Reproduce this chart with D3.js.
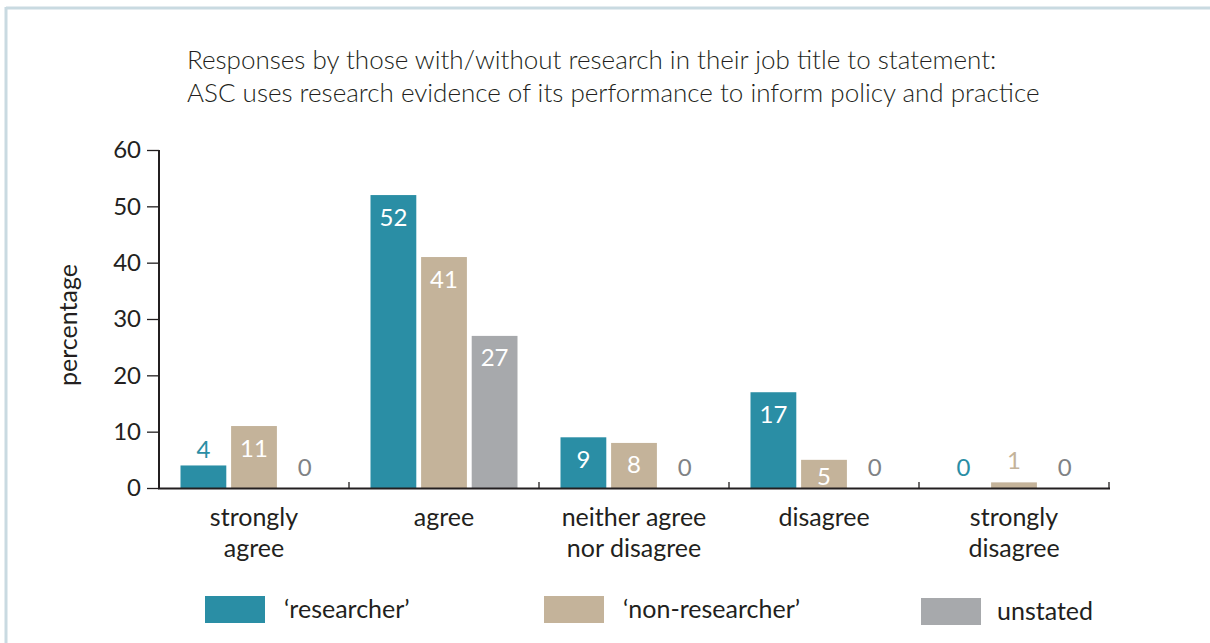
<!DOCTYPE html>
<html>
<head>
<meta charset="utf-8">
<script src="https://cdn.jsdelivr.net/npm/d3@7/dist/d3.min.js"></script>
<style>
  html, body { margin: 0; padding: 0; background: #fff; }
  svg { display: block; }
  text { font-family: Lato, "Open Sans", sans-serif; fill: #231f20; }
</style>
</head>
<body>
<svg id="chart" width="1210" height="643"></svg>
<script>
// Response categories (two-line labels)
const categories = [
  ["strongly", "agree"],
  ["agree"],
  ["neither agree", "nor disagree"],
  ["disagree"],
  ["strongly", "disagree"]
];
const seriesNames = ["\u2018researcher\u2019", "\u2018non-researcher\u2019", "unstated"];
const researcher    = [4, 52, 9, 17, 0];
const nonResearcher = [11, 41, 8, 5, 1];
const unstated      = [0, 27, 0, 0, 0];
const yTicks = [0, 10, 20, 30, 40, 50, 60];
const titleLines = [
  "Responses by those with/without research in their job title to statement:",
  "ASC uses research evidence of its performance to inform policy and practice"
];

const colors = ["#2a8ea5", "#c4b39a", "#a7a9ac"];
const labelColorsOutside = ["#2a8ea5", "#c4b39a", "#808285"];
const series = [researcher, nonResearcher, unstated];

const svg = d3.select("#chart");

// panel frame (top and left rule)
svg.append("line").attr("x1", 6).attr("x2", 1210).attr("y1", 8).attr("y2", 8)
  .attr("stroke", "#c9dae1").attr("stroke-width", 3);
svg.append("line").attr("x1", 6).attr("x2", 6).attr("y1", 7).attr("y2", 643)
  .attr("stroke", "#c9dae1").attr("stroke-width", 3);

// title
titleLines.forEach((t, i) => {
  svg.append("text").attr("x", 187).attr("y", 69 + i * 33)
    .attr("font-size", 26).style("font-weight", 300).text(t);
});

const x0 = 159, x1 = 1109, yTop = 150, yBase = 488;
const x = d3.scaleBand().domain(d3.range(categories.length)).range([x0, x1]);
const y = d3.scaleLinear().domain([0, 60]).range([yBase, yTop]);
const inner = d3.scaleBand().domain(d3.range(series.length))
  .range([21.5, x.bandwidth() - 21.5]).paddingInner(0.095);

// y axis
const yAxis = svg.append("g").attr("transform", `translate(${x0},0)`)
  .call(d3.axisLeft(y).tickValues(yTicks).tickSize(12).tickPadding(6));
yAxis.select(".domain").attr("stroke", "#231f20").attr("stroke-width", 2)
  .attr("d", `M0,${yTop}V${yBase}`);
yAxis.selectAll(".tick line").attr("stroke", "#231f20").attr("stroke-width", 1.3);
yAxis.selectAll(".tick text").attr("font-size", 24).style("font-family", "Lato, 'Open Sans', sans-serif")
  .attr("fill", "#231f20");

svg.append("text").attr("transform", "translate(77,325) rotate(-90)")
  .attr("text-anchor", "middle").attr("font-size", 25).text("percentage");

// bars
series.forEach((vals, s) => {
  svg.append("g").selectAll("rect").data(vals).join("rect")
    .attr("x", (d, i) => x(i) + inner(s))
    .attr("width", inner.bandwidth())
    .attr("y", d => y(d))
    .attr("height", d => yBase - y(d))
    .attr("fill", colors[s]);
});

// value labels: inside the bar in white when it fits, else above it
series.forEach((vals, s) => {
  svg.append("g").selectAll("text").data(vals).join("text")
    .attr("x", (d, i) => x(i) + inner(s) + inner.bandwidth() / 2)
    .attr("text-anchor", "middle")
    .attr("dominant-baseline", "central")
    .attr("font-size", 24)
    .attr("y", d => d >= 5 ? Math.min(y(d) + 21, yBase - 13)
                           : (d > 0 ? Math.min(y(d) - 17, yBase - 29) : yBase - 22))
    .style("fill", d => d >= 5 ? "#ffffff" : labelColorsOutside[s])
    .text(d => d);
});

// x axis
const xAxis = svg.append("g");
xAxis.append("line").attr("x1", x0 - 1).attr("x2", x1 + 1).attr("y1", yBase + 0.5).attr("y2", yBase + 0.5)
  .attr("stroke", "#231f20").attr("stroke-width", 2);
xAxis.selectAll("line.sep").data(d3.range(1, categories.length + 1)).join("line")
  .attr("class", "sep")
  .attr("x1", i => x0 + i * x.step()).attr("x2", i => x0 + i * x.step())
  .attr("y1", yBase - 6).attr("y2", yBase)
  .attr("stroke", "#231f20").attr("stroke-width", 1.3);

// category labels
categories.forEach((lines, i) => {
  const t = svg.append("text").attr("text-anchor", "middle").attr("font-size", 25);
  lines.forEach((l, k) => {
    t.append("tspan").attr("x", x(i) + x.bandwidth() / 2).attr("y", 526 + k * 31).text(l);
  });
});

// legend
const legendX = [205, 544, 921];
const legendY = [596, 596, 598];
seriesNames.forEach((n, s) => {
  svg.append("rect").attr("x", legendX[s]).attr("y", legendY[s]).attr("width", 60).attr("height", 27)
    .attr("fill", colors[s]);
  svg.append("text").attr("x", legendX[s] + (s === 2 ? 76 : 79)).attr("y", legendY[s] + 22)
    .attr("font-size", 25).text(n);
});
</script>
</body>
</html>
